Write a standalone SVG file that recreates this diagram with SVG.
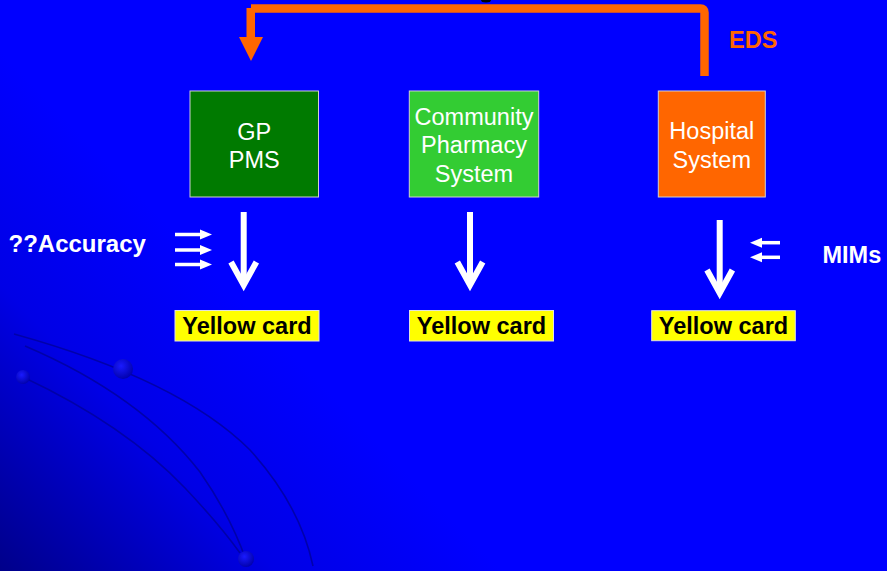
<svg xmlns="http://www.w3.org/2000/svg" width="887" height="571" viewBox="0 0 887 571">
<defs>
<linearGradient id="bg" gradientUnits="userSpaceOnUse" x1="0" y1="571" x2="260" y2="320">
<stop offset="0" stop-color="#00008a"/>
<stop offset="0.55" stop-color="#0000e6"/>
<stop offset="1" stop-color="#0000ff"/>
</linearGradient>
<radialGradient id="ball" cx="0.4" cy="0.35" r="0.7">
<stop offset="0" stop-color="#1a1aff"/>
<stop offset="1" stop-color="#0000a8"/>
</radialGradient>
<style>
.box{stroke:#d0d0d0;stroke-width:1}
.bt{font-family:"Liberation Sans",Arial,sans-serif;font-size:23.5px;fill:#fff;text-anchor:middle}
.bold{font-family:"Liberation Sans",Arial,sans-serif;font-size:23.5px;font-weight:bold}
.yc{fill:#ffff00;stroke:#e0e0e0;stroke-width:1}
.wa{stroke:#fff;stroke-width:6;fill:none}
.sa{stroke:#fff;stroke-width:3.5;fill:none}
.curve{stroke:#0000a0;stroke-width:1.6;fill:none;opacity:0.85}
.orange{stroke:#ff6600;stroke-width:8.5;fill:none}
</style>
</defs>
<rect width="887" height="571" fill="url(#bg)"/>
<!-- decorative curves -->
<path class="curve" d="M 14 334 Q 180 380 250 450 Q 300 505 313 566"/>
<path class="curve" d="M 25 346 Q 140 395 200 472 Q 230 515 246 560"/>
<path class="curve" d="M 23 377 Q 125 425 185 488 Q 220 525 240 553"/>
<circle cx="123" cy="369" r="10" fill="url(#ball)"/>
<circle cx="23" cy="377" r="7" fill="url(#ball)"/>
<circle cx="246" cy="559" r="8" fill="url(#ball)"/>
<ellipse cx="486" cy="0" rx="5" ry="2.5" fill="#000"/>
<g id="connectors">
<path class="orange" d="M 704.5 76 V 12.5 Q 704.5 8.5 700.5 8.5 H 251"/>
<line class="orange" x1="250.75" y1="8" x2="250.75" y2="40"/>
<polygon points="239,37 263,37 251,61" fill="#ff6600"/>
<line class="wa" x1="243.7" y1="212" x2="243.7" y2="283"/>
<polyline class="wa" points="231,262 243.7,285 256.4,262"/>
<line class="wa" x1="470" y1="212" x2="470" y2="283"/>
<polyline class="wa" points="457.3,262 470,285 482.7,262"/>
<line class="wa" x1="719.7" y1="220" x2="719.7" y2="291"/>
<polyline class="wa" points="707,270 719.7,293 732.4,270"/>
<line class="sa" x1="175" y1="234.5" x2="202" y2="234.5"/>
<polygon points="200,229.5 212,234.5 200,239.5" fill="#fff"/>
<line class="sa" x1="175" y1="250" x2="202" y2="250"/>
<polygon points="200,245 212,250 200,255" fill="#fff"/>
<line class="sa" x1="175" y1="264.5" x2="202" y2="264.5"/>
<polygon points="200,259.5 212,264.5 200,269.5" fill="#fff"/>
<line class="sa" x1="760" y1="242.7" x2="780" y2="242.7"/>
<polygon points="762,237.7 750,242.7 762,247.7" fill="#fff"/>
<line class="sa" x1="760" y1="257.3" x2="780" y2="257.3"/>
<polygon points="762,252.3 750,257.3 762,262.3" fill="#fff"/>
</g>
<g id="gp">
<rect class="box" x="190" y="91" width="128.5" height="106" fill="#007a00"/>
<text class="bt" x="254.3" y="139.5">GP</text>
<text class="bt" x="254.3" y="168">PMS</text>
</g>
<g id="community">
<rect class="box" x="409.3" y="91" width="129.4" height="106" fill="#33cc33"/>
<text class="bt" x="474" y="124.5">Community</text>
<text class="bt" x="474" y="153.3">Pharmacy</text>
<text class="bt" x="474" y="182">System</text>
</g>
<g id="hospital">
<rect class="box" x="658.3" y="91" width="107" height="106" fill="#ff6600"/>
<text class="bt" x="711.8" y="139">Hospital</text>
<text class="bt" x="711.8" y="167.5">System</text>
</g>
<g id="eds"><text class="bold" x="729" y="48" fill="#ff6600">EDS</text></g>
<g id="accuracy"><text class="bold" x="8.5" y="251.5" fill="#fff" style="font-size:24px">??Accuracy</text></g>
<g id="mims"><text class="bold" x="822.5" y="262.5" fill="#fff">MIMs</text></g>
<g id="yc1">
<rect class="yc" x="175" y="310.5" width="144" height="30.5"/>
<text class="bold" x="247" y="334" fill="#000" text-anchor="middle">Yellow card</text>
</g>
<g id="yc2">
<rect class="yc" x="409.5" y="310.5" width="144" height="30.5"/>
<text class="bold" x="481.5" y="334" fill="#000" text-anchor="middle">Yellow card</text>
</g>
<g id="yc3">
<rect class="yc" x="651.7" y="310.7" width="143.6" height="30"/>
<text class="bold" x="723.5" y="334" fill="#000" text-anchor="middle">Yellow card</text>
</g>
</svg>
